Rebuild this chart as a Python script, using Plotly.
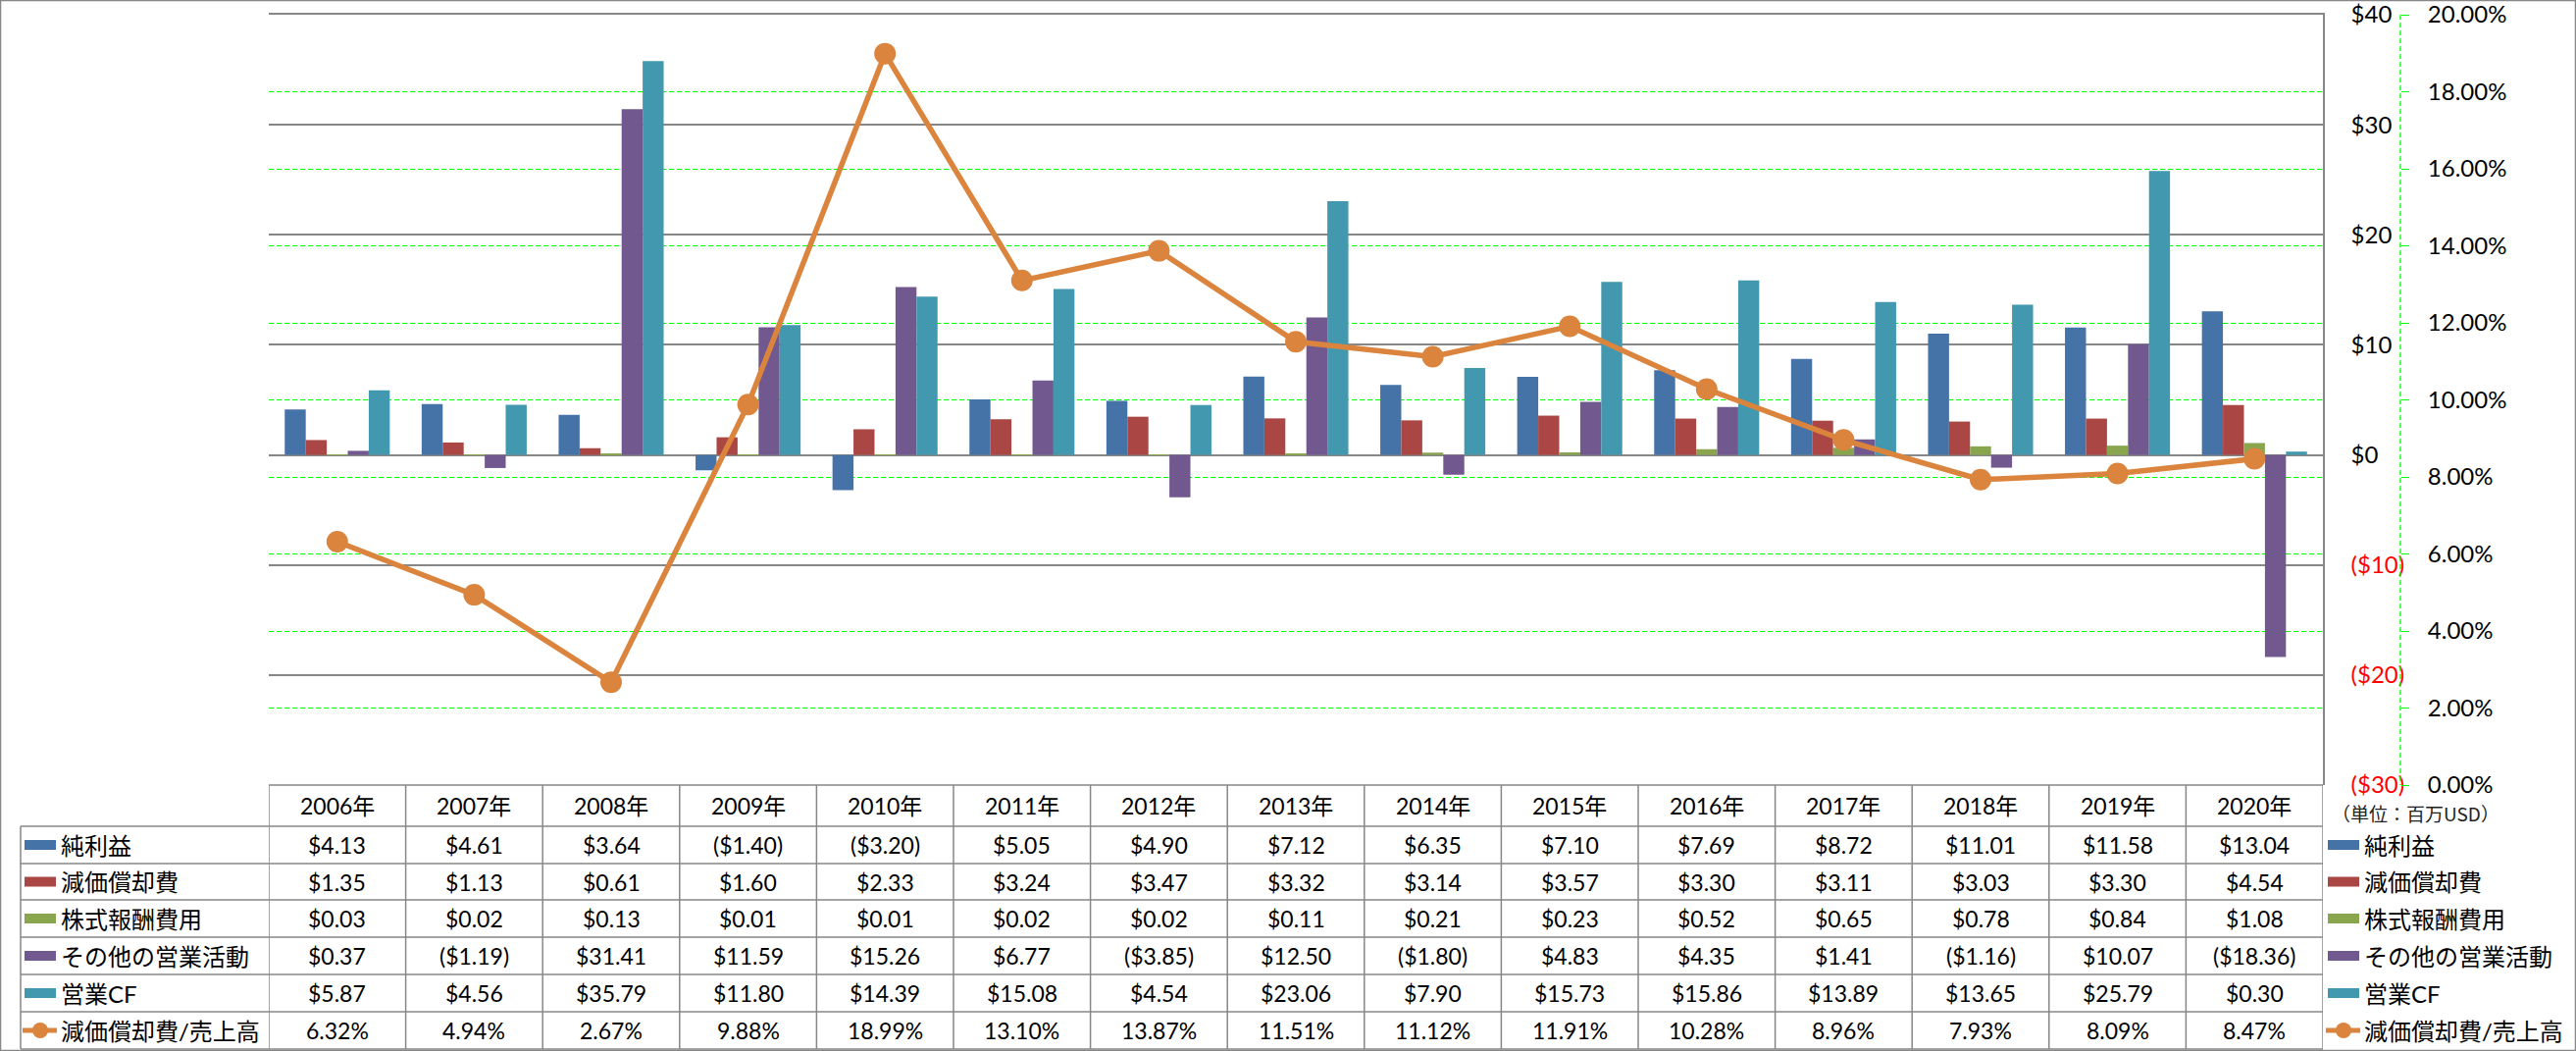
import plotly.graph_objects as go

years = ["2006年", "2007年", "2008年", "2009年", "2010年", "2011年", "2012年", "2013年",
         "2014年", "2015年", "2016年", "2017年", "2018年", "2019年", "2020年"]

net_income = [4.13, 4.61, 3.64, -1.40, -3.20, 5.05, 4.90, 7.12, 6.35, 7.10, 7.69, 8.72, 11.01, 11.58, 13.04]
depreciation = [1.35, 1.13, 0.61, 1.60, 2.33, 3.24, 3.47, 3.32, 3.14, 3.57, 3.30, 3.11, 3.03, 3.30, 4.54]
stock_comp = [0.03, 0.02, 0.13, 0.01, 0.01, 0.02, 0.02, 0.11, 0.21, 0.23, 0.52, 0.65, 0.78, 0.84, 1.08]
other_ops = [0.37, -1.19, 31.41, 11.59, 15.26, 6.77, -3.85, 12.50, -1.80, 4.83, 4.35, 1.41, -1.16, 10.07, -18.36]
operating_cf = [5.87, 4.56, 35.79, 11.80, 14.39, 15.08, 4.54, 23.06, 7.90, 15.73, 15.86, 13.89, 13.65, 25.79, 0.30]
dep_ratio_pct = [6.32, 4.94, 2.67, 9.88, 18.99, 13.10, 13.87, 11.51, 11.12, 11.91, 10.28, 8.96, 7.93, 8.09, 8.47]

bar_names = ["純利益", "減価償却費", "株式報酬費用", "その他の営業活動", "営業CF"]
line_name = "減価償却費/売上高"
bar_colors = ["#4572A7", "#AA4643", "#89A54E", "#71588F", "#4198AF"]
line_color = "#DB843D"

usd_ticks = [-30, -20, -10, 0, 10, 20, 30, 40]
pct_ticks = [0.00, 0.02, 0.04, 0.06, 0.08, 0.10, 0.12, 0.14, 0.16, 0.18, 0.20]
unit_label = "（単位：百万USD）"

W, H = 2626, 1071
FONT = "Lato, 'Noto Sans CJK JP', sans-serif"
FS = 23
GRAY = "#878787"
GREEN = "#00FF00"
DASH = "5px,3px"

# layout geometry (pixels)
PL, PR, PT, PB = 274, 2368, 15, 800
PCT_AXIS_X = 2447
ROW_LINES = [842, 880, 917, 955, 993, 1031, 1069]
TABLE_LEFT = 21


def px(x):
    return x / W


def py(y):
    return 1 - y / H


def fmt_usd(v):
    return f"${v:.2f}" if v >= 0 else f"(${abs(v):.2f})"


def fmt_tick(v):
    if v < 0:
        return f"<span style='color:#FF0000'>(${abs(v)})</span>"
    return f"${v}"


fig = go.Figure()
series = [net_income, depreciation, stock_comp, other_ops, operating_cf]
for name, vals, col in zip(bar_names, series, bar_colors):
    fig.add_trace(go.Bar(x=years, y=vals, name=name, marker=dict(color=col, line=dict(width=0)),
                         showlegend=False, yaxis="y"))

fig.add_trace(go.Scatter(x=years, y=[v / 100 for v in dep_ratio_pct], name=line_name, yaxis="y2",
                         mode="lines+markers", line=dict(color=line_color, width=5.5),
                         marker=dict(size=22, color=line_color), showlegend=False))

shapes = []
annotations = []

# percentage axis line (dashed green)
shapes.append(dict(type="line", xref="paper", yref="paper", x0=px(PCT_AXIS_X), x1=px(PCT_AXIS_X),
                   y0=py(PT), y1=py(PB), line=dict(color=GREEN, width=1.3, dash=DASH), layer="above"))

# table horizontal lines
shapes.append(dict(type="line", xref="paper", yref="paper", x0=px(PL), x1=px(PR), y0=py(PB), y1=py(PB),
                   line=dict(color=GRAY, width=1.5)))
for yl in ROW_LINES:
    shapes.append(dict(type="line", xref="paper", yref="paper", x0=px(TABLE_LEFT), x1=px(PR), y0=py(yl), y1=py(yl),
                       line=dict(color=GRAY, width=1.5)))
# vertical lines
shapes.append(dict(type="line", xref="paper", yref="paper", x0=px(TABLE_LEFT), x1=px(TABLE_LEFT),
                   y0=py(ROW_LINES[0]), y1=py(ROW_LINES[-1]), line=dict(color=GRAY, width=1.5)))
for i in range(len(years) + 1):
    shapes.append(dict(type="line", xref="x", yref="paper", x0=i - 0.5, x1=i - 0.5,
                       y0=py(PB), y1=py(ROW_LINES[-1]), line=dict(color=GRAY, width=1.5)))
# outer border
shapes.append(dict(type="rect", xref="paper", yref="paper", x0=0, x1=1, y0=0, y1=1,
                   line=dict(color=GRAY, width=2.5)))

# header
for i, yr in enumerate(years):
    annotations.append(dict(x=i, xref="x", y=py((PB + ROW_LINES[0]) / 2), yref="paper", text=yr,
                            showarrow=False, xanchor="center", yanchor="middle",
                            font=dict(family=FONT, size=FS, color="#000")))

row_vals = series + [dep_ratio_pct]
row_names = bar_names + [line_name]
row_colors = bar_colors + [line_color]
for r in range(6):
    yc = (ROW_LINES[r] + ROW_LINES[r + 1]) / 2
    for i in range(len(years)):
        v = row_vals[r][i]
        txt = fmt_usd(v) if r < 5 else f"{v:.2f}%"
        annotations.append(dict(x=i, xref="x", y=py(yc), yref="paper", text=txt, showarrow=False,
                                xanchor="center", yanchor="middle",
                                font=dict(family=FONT, size=FS, color="#000")))
    # legend keys (left and right)
    for (sx0, sx1, tx) in [(25, 57, 60), (2373, 2405, 2408)]:
        if r < 5:
            shapes.append(dict(type="rect", xref="paper", yref="paper", x0=px(sx0), x1=px(sx1),
                               y0=py(yc - 5), y1=py(yc + 5), fillcolor=row_colors[r], line=dict(width=0)))
        else:
            shapes.append(dict(type="line", xref="paper", yref="paper", x0=px(sx0 - 2), x1=px(sx1 + 1),
                               y0=py(yc), y1=py(yc), line=dict(color=line_color, width=5)))
            cx = (sx0 + sx1) / 2
            shapes.append(dict(type="circle", xref="paper", yref="paper", x0=px(cx - 8), x1=px(cx + 8),
                               y0=py(yc - 8), y1=py(yc + 8), fillcolor=line_color, line=dict(width=0)))
        annotations.append(dict(x=px(tx), xref="paper", y=py(yc), yref="paper", text=row_names[r],
                                showarrow=False, xanchor="left", yanchor="middle",
                                font=dict(family=FONT, size=24, color="#000")))

annotations.append(dict(x=px(2462), xref="paper", y=py(828), yref="paper", text=unit_label, showarrow=False,
                        xanchor="center", yanchor="middle",
                        font=dict(family="'Noto Sans CJK JP'", size=19, color="#222")))

fig.update_layout(
    width=W, height=H, margin=dict(l=0, r=0, t=0, b=0, autoexpand=False),
    paper_bgcolor="white", plot_bgcolor="white",
    barmode="group", bargap=0.233, bargroupgap=0,
    font=dict(family=FONT, size=FS, color="#000"),
    xaxis=dict(domain=[px(PL), px(PR)], type="category", range=[-0.5, len(years) - 0.5], automargin=False,
               side="top", showline=True, linecolor=GRAY, linewidth=1.5,
               showticklabels=False, showgrid=False, zeroline=False, ticks=""),
    yaxis=dict(domain=[py(PB), py(PT)], range=[-30, 40], side="right", anchor="x", automargin=False,
               tickvals=usd_ticks, ticktext=[fmt_tick(v) for v in usd_ticks], ticklabeloverflow="allow",
               showgrid=True, gridcolor=GRAY, gridwidth=1.5, zeroline=False,
               showline=True, linecolor=GRAY, linewidth=1.5,
               ticks="", ticklabelstandoff=22, tickfont=dict(family=FONT, size=FS + 1, color="#000")),
    yaxis2=dict(domain=[py(PB), py(PT)], range=[0, 0.20], overlaying="y", side="right", anchor="free",
                position=px(PCT_AXIS_X), tickvals=pct_ticks, tickformat=".2%", automargin=False,
                ticklabeloverflow="allow",
                showgrid=True, gridcolor=GREEN, gridwidth=1.3, griddash=DASH, zeroline=False,
                showline=False, ticks="outside", ticklen=8, tickcolor=GREEN, tickwidth=1.3,
                ticklabelstandoff=14, tickfont=dict(family=FONT, size=FS + 1, color="#000")),
    shapes=shapes, annotations=annotations,
)

fig.write_html("out.html", config={"displayModeBar": False},
               post_script="document.body.style.margin='0';document.body.style.padding='0';"
                           "document.documentElement.style.overflow='hidden';")
